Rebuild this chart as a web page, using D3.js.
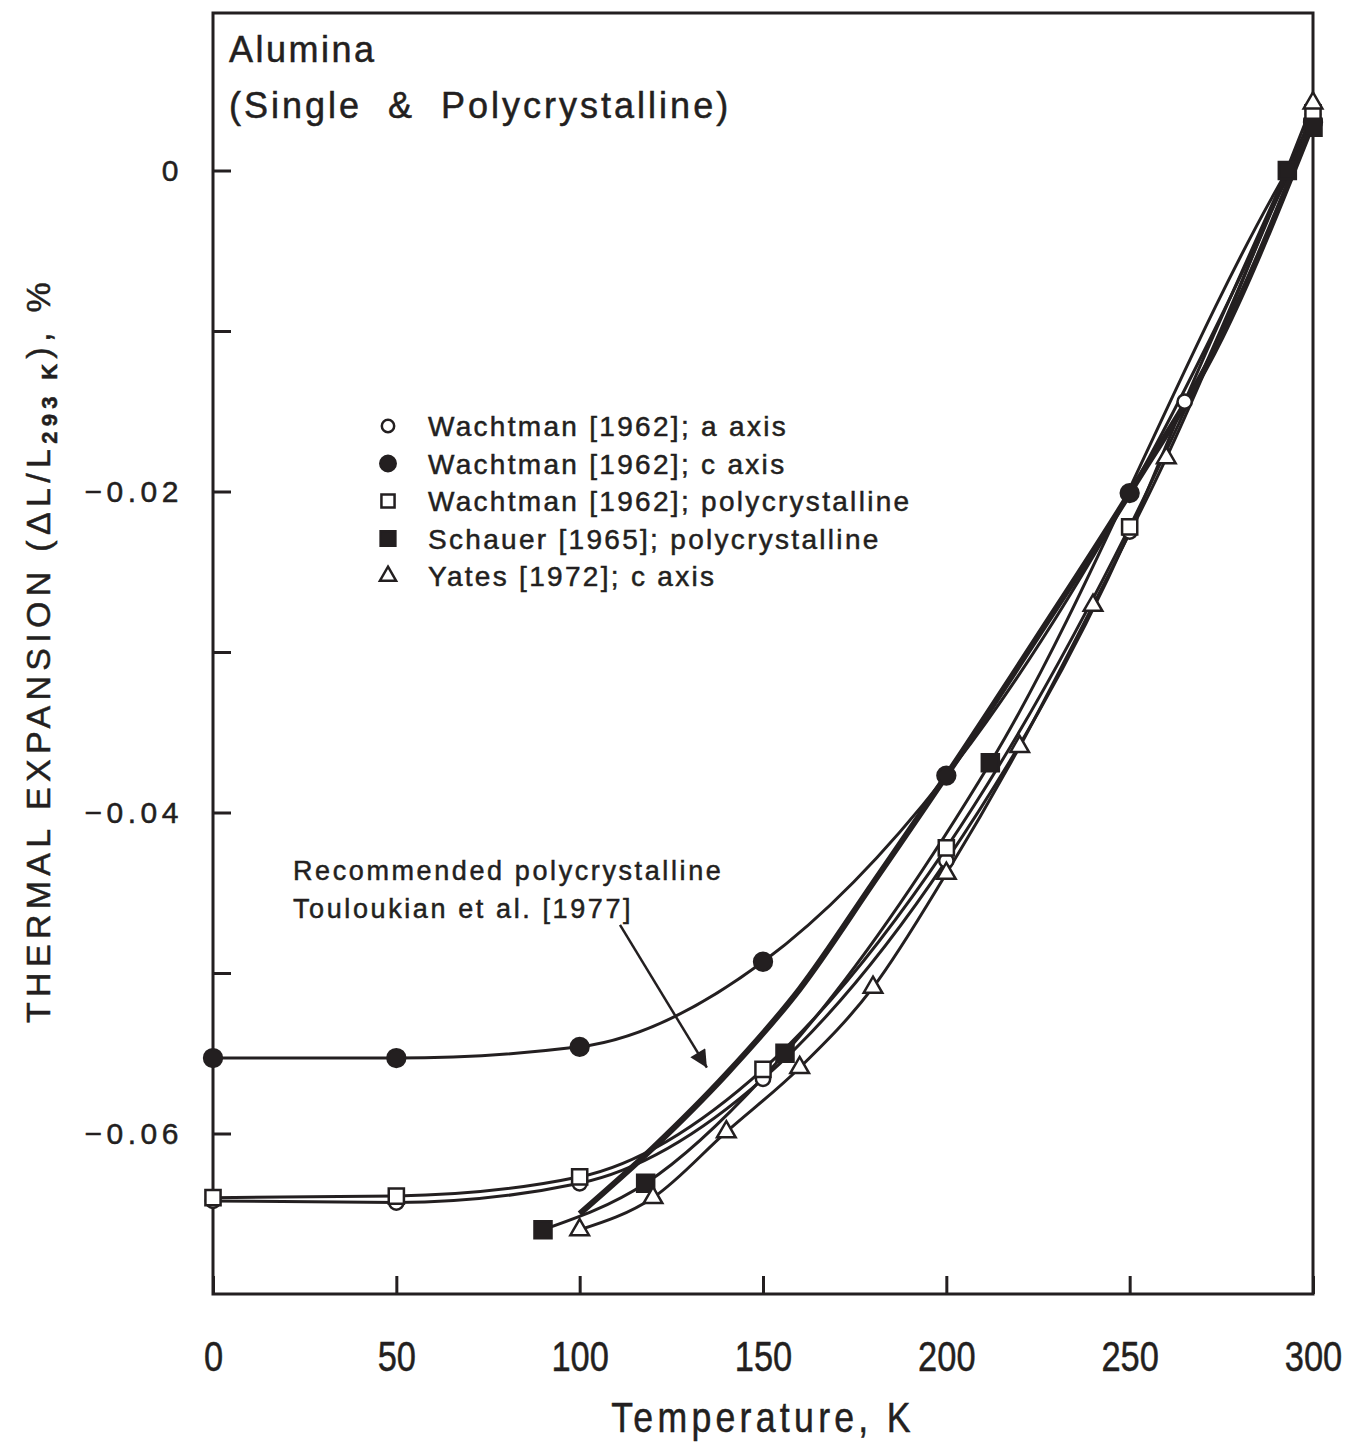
<!DOCTYPE html>
<html>
<head>
<meta charset="utf-8">
<script src="https://cdn.jsdelivr.net/npm/d3@7"></script>
<style>
body { margin: 0; background: #fff; }
text { font-family: "Liberation Sans", Arial, sans-serif; fill: #231f20; stroke: #231f20; stroke-width: 0.5; }
</style>
</head>
<body>
<div id="chart"></div>
<script>
// values: temperature (K) and dL/L (%)
var wachtmanA_T = [0, 50, 100, 150, 200, 250, 265, 300];
var wachtmanA_V = [-0.0642, -0.0643, -0.0631, -0.0566, -0.0430, -0.0225, -0.0144, 0.0035];
var wachtmanC_T = [0, 50, 100, 150, 200, 250, 300];
var wachtmanC_V = [-0.0553, -0.0553, -0.0546, -0.0493, -0.0377, -0.0201, 0.0030];
var wachtmanP_T = [0, 50, 100, 150, 200, 250, 300];
var wachtmanP_V = [-0.0640, -0.0639, -0.0627, -0.0560, -0.0422, -0.0222, 0.0036];
var schauer_T = [90, 118, 156, 212, 293, 300];
var schauer_V = [-0.0660, -0.0631, -0.0550, -0.0369, 0.0000, 0.0027];
var yates_T = [100, 120, 140, 160, 180, 200, 220, 240, 260, 300];
var yates_V = [-0.0660, -0.0640, -0.0599, -0.0559, -0.0509, -0.0438, -0.0359, -0.0271, -0.0179, 0.0042];
// Touloukian et al. recommended curve (thick line)
var recommended_T = [100, 120, 140, 160, 180, 200, 225, 250, 275, 300];
var recommended_V = [-0.0650, -0.0609, -0.0563, -0.0510, -0.0444, -0.0377, -0.0290, -0.0201, -0.0104, 0.0030];

var xTicks = [0, 50, 100, 150, 200, 250, 300];
var yTicks = [0, -0.02, -0.04, -0.06];
var yMinorTicks = [-0.01, -0.03, -0.05];
var legendLabels = [
  "Wachtman [1962]; a axis",
  "Wachtman [1962]; c axis",
  "Wachtman [1962]; polycrystalline",
  "Schauer [1965]; polycrystalline",
  "Yates [1972]; c axis"
];

var ink = "#231f20";

var svg = d3.select("#chart").append("svg")
    .attr("width", 1347)
    .attr("height", 1451);

var x = d3.scaleLinear().domain([0, 300]).range([213, 1313]);
var y = d3.scaleLinear().domain([-0.07, 0.01]).range([1294, 10]);

function zip(ts, vs) {
  return ts.map(function(t, i) { return { t: t, v: vs[i] }; });
}

var series = [
  { pts: zip(wachtmanA_T, wachtmanA_V), sym: d3.symbolCircle, size: 160, filled: false },
  { pts: zip(wachtmanC_T, wachtmanC_V), sym: d3.symbolCircle, size: 250, filled: true },
  { pts: zip(wachtmanP_T, wachtmanP_V), sym: d3.symbolSquare, size: 230, filled: false },
  { pts: zip(schauer_T, schauer_V), sym: d3.symbolSquare, size: 290, filled: true },
  { pts: zip(yates_T, yates_V), sym: d3.symbolTriangle, size: 150, filled: false }
];

var line = d3.line()
    .x(function(d) { return x(d.t); })
    .y(function(d) { return y(d.v); })
    .curve(d3.curveMonotoneX);

// frame
svg.append("rect")
    .attr("x", x(0)).attr("y", y(0.01) + 3)
    .attr("width", x(300) - x(0)).attr("height", y(-0.07) - y(0.01) - 3)
    .attr("fill", "none").attr("stroke", ink).attr("stroke-width", 3);

// axes, ticks pointing inward
var yAxis = d3.axisLeft(y)
    .tickValues(yTicks)
    .tickSizeInner(-18).tickSizeOuter(0)
    .tickPadding(30)
    .tickFormat(function(d) { return d === 0 ? "0" : d3.format(".2f")(d); });
var gy = svg.append("g").attr("transform", "translate(" + x(0) + ",0)").call(yAxis);

var gy2 = svg.append("g").attr("transform", "translate(" + x(0) + ",0)")
    .call(d3.axisLeft(y).tickValues(yMinorTicks).tickSizeInner(-18).tickSizeOuter(0).tickFormat(""));

var xAxis = d3.axisBottom(x)
    .tickValues(xTicks)
    .tickSizeInner(-18).tickSizeOuter(0)
    .tickPadding(47);
var gx = svg.append("g").attr("transform", "translate(0," + y(-0.07) + ")").call(xAxis);

[gx, gy, gy2].forEach(function(g) {
  g.select(".domain").remove();
  g.selectAll(".tick line").attr("stroke", ink).attr("stroke-width", 3);
});
gy.selectAll(".tick text")
    .attr("font-size", 30).attr("letter-spacing", 4.5).attr("fill", ink)
    .attr("font-family", "Liberation Sans, Arial, sans-serif");
// the x labels are tall and narrow in the original
gx.selectAll(".tick text")
    .attr("font-size", 42).attr("fill", ink)
    .attr("font-family", "Liberation Sans, Arial, sans-serif")
    .attr("transform", "scale(0.82,1)");

// data curves
series.forEach(function(s) {
  svg.append("path")
      .datum(s.pts)
      .attr("d", line)
      .attr("fill", "none")
      .attr("stroke", ink)
      .attr("stroke-width", 3);
});

svg.append("path")
    .datum(zip(recommended_T, recommended_V))
    .attr("d", line)
    .attr("fill", "none")
    .attr("stroke", ink)
    .attr("stroke-width", 6);

// markers
series.forEach(function(s) {
  svg.append("g").selectAll("path")
      .data(s.pts)
      .enter()
      .append("path")
      .attr("transform", function(d) { return "translate(" + x(d.t) + "," + y(d.v) + ")"; })
      .attr("d", d3.symbol().type(s.sym).size(s.size))
      .attr("fill", s.filled ? ink : "#fff")
      .attr("stroke", ink)
      .attr("stroke-width", 2.5);
});

// title
svg.append("text").attr("x", 229).attr("y", 62)
    .attr("font-size", 36).attr("letter-spacing", 2.5)
    .text("Alumina");
svg.append("text").attr("x", 229).attr("y", 118)
    .attr("font-size", 36).attr("letter-spacing", 3).attr("xml:space", "preserve")
    .style("white-space", "pre")
    .text("(Single  &  Polycrystalline)");

// legend
var leg = svg.append("g");
legendLabels.forEach(function(lab, i) {
  var s = series[i];
  var ly = 426 + i * 37.5;
  leg.append("path")
      .attr("transform", "translate(388," + ly + ")")
      .attr("d", d3.symbol().type(s.sym).size(s.size * 0.75))
      .attr("fill", s.filled ? ink : "#fff")
      .attr("stroke", ink)
      .attr("stroke-width", 2.5);
  leg.append("text")
      .attr("x", 428).attr("y", ly + 10)
      .attr("font-size", 28).attr("letter-spacing", 2.3)
      .text(lab);
});

// annotation + arrow
svg.append("text").attr("x", 293).attr("y", 880)
    .attr("font-size", 27).attr("letter-spacing", 2.6)
    .text("Recommended polycrystalline");
svg.append("text").attr("x", 293).attr("y", 918)
    .attr("font-size", 27).attr("letter-spacing", 2.6)
    .text("Touloukian et al. [1977]");

svg.append("defs").append("marker")
    .attr("id", "head")
    .attr("viewBox", "0 0 10 10")
    .attr("refX", 10).attr("refY", 5)
    .attr("markerWidth", 10).attr("markerHeight", 7)
    .attr("markerUnits", "strokeWidth")
    .attr("orient", "auto")
  .append("path")
    .attr("d", "M0,0 L10,5 L0,10 z")
    .attr("fill", ink);

svg.append("line")
    .attr("x1", x(111)).attr("y1", y(-0.0470))
    .attr("x2", x(134.7)).attr("y2", y(-0.0559))
    .attr("stroke", ink).attr("stroke-width", 2.5)
    .attr("marker-end", "url(#head)");

// axis titles
svg.append("text")
    .attr("transform", "translate(763,1432) scale(0.85,1)")
    .attr("text-anchor", "middle")
    .attr("font-size", 42).attr("letter-spacing", 5)
    .text("Temperature, K");

var yl = svg.append("text")
    .attr("transform", "translate(50,650) rotate(-90)")
    .attr("text-anchor", "middle")
    .attr("font-size", 34).attr("letter-spacing", 5.3);
yl.append("tspan").text("THERMAL EXPANSION (\u0394L/L");
yl.append("tspan").attr("font-size", 22).attr("font-weight", "bold").attr("dy", 7).text("293 K");
yl.append("tspan").attr("dy", -7).text("), %");
</script>
</body>
</html>
